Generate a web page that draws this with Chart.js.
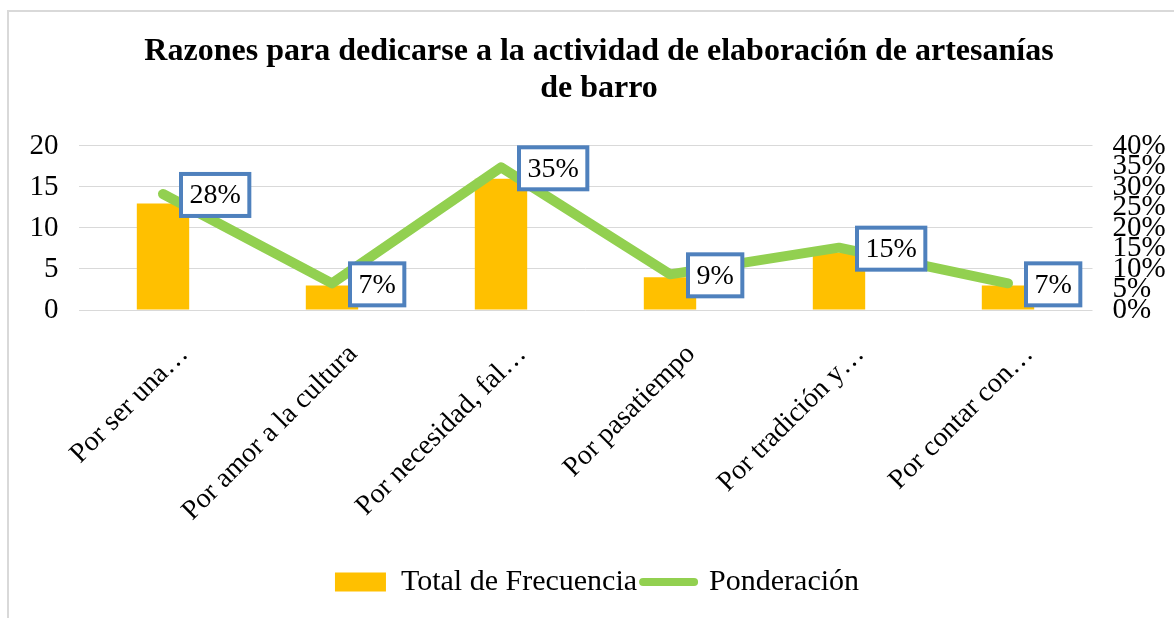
<!DOCTYPE html>
<html>
<head>
<meta charset="utf-8">
<script src="https://cdn.jsdelivr.net/npm/chart.js@4/dist/chart.umd.min.js"></script>
<style>
  html, body { margin: 0; padding: 0; background: #fff; }
  .frame { position: absolute; left: 7px; top: 10px; width: 1180px; height: 620px;
           border-left: 2px solid #d9d9d9; border-top: 2px solid #d9d9d9; }
  canvas { position: absolute; left: 0; top: 0; }
</style>
</head>
<body>
<div class="frame"></div>
<canvas id="chart" width="1174" height="618"></canvas>
<script>
const categories = [
    'Por ser una…',
    'Por amor a la cultura',
    'Por necesidad, fal…',
    'Por pasatiempo',
    'Por tradición y…',
    'Por contar con…'
];
const frecuencia = [13, 3, 16, 4, 7, 3];
const ponderacion = [28.3, 6.5, 34.8, 8.7, 15.2, 6.5];
const leftTicks = [0, 5, 10, 15, 20];
const rightTicks = [0, 5, 10, 15, 20, 25, 30, 35, 40];

const serif = "'Liberation Serif', 'Times New Roman', serif";
const gold = '#FFC000';
const green = '#92D050';
const blueBorder = '#4F81BD';

// boxed % labels next to each line point
const boxLabels = {
    id: 'boxLabels',
    afterDatasetsDraw(chart) {
        const meta = chart.getDatasetMeta(1);
        const ctx = chart.ctx;
        ctx.save();
        ctx.font = '28px ' + serif;
        ctx.textBaseline = 'middle';
        ctx.textAlign = 'left';
        meta.data.forEach((pt, i) => {
            const text = Math.round(ponderacion[i]) + '%';
            const tw = ctx.measureText(text).width;
            const bx = pt.x + 18;
            const bw = tw + 17;
            const bh = 42;
            const by = pt.y - bh / 2 + 1;
            ctx.fillStyle = '#fff';
            ctx.fillRect(bx, by, bw, bh);
            ctx.lineWidth = 4;
            ctx.strokeStyle = blueBorder;
            ctx.strokeRect(bx, by, bw, bh);
            ctx.fillStyle = '#000';
            ctx.fillText(text, bx + 8.5, by + bh / 2 + 1);
        });
        ctx.restore();
    }
};

// nudge title and legend to the frame's centre
const nudge = {
    id: 'nudge',
    afterLayout(chart) {
        if (chart.titleBlock) { chart.titleBlock.left += 12; chart.titleBlock.right += 12; }
        if (chart.legend) { chart.legend.left += 10; chart.legend.right += 10; }
    }
};

new Chart(document.getElementById('chart'), {
    type: 'bar',
    data: {
        labels: categories,
        datasets: [
            {
                label: 'Total de Frecuencia',
                data: frecuencia,
                backgroundColor: gold,
                borderWidth: 0,
                barPercentage: 0.31,
                categoryPercentage: 1,
                yAxisID: 'y',
                order: 1
            },
            {
                type: 'line',
                label: 'Ponderación',
                data: ponderacion,
                borderColor: green,
                backgroundColor: green,
                borderWidth: 10,
                borderCapStyle: 'round',
                borderJoinStyle: 'round',
                pointRadius: 0,
                tension: 0,
                yAxisID: 'y1',
                order: 0
            }
        ]
    },
    options: {
        responsive: false,
        animation: false,
        devicePixelRatio: 1,
        layout: { padding: { top: 33, bottom: 11, left: 0, right: 0 } },
        scales: {
            x: {
                grid: { display: false },
                border: { display: false },
                ticks: {
                    color: '#000',
                    font: { family: serif, size: 28 },
                    minRotation: 45,
                    maxRotation: 45,
                    autoSkip: false,
                    padding: 20,
                    labelOffset: 21
                },
                afterFit(scale) { scale.height = 251; }
            },
            y: {
                position: 'left',
                min: 0,
                max: 20,
                afterBuildTicks(scale) { scale.ticks = leftTicks.map(v => ({ value: v })); },
                grid: { color: '#d9d9d9', lineWidth: 1, drawTicks: false },
                border: { display: false },
                ticks: {
                    color: '#000',
                    font: { family: serif, size: 29 },
                    padding: 20
                },
                afterFit(scale) { scale.width = 78.5; }
            },
            y1: {
                position: 'right',
                min: 0,
                max: 40,
                afterBuildTicks(scale) { scale.ticks = rightTicks.map(v => ({ value: v })); },
                grid: { display: false, drawTicks: false },
                border: { display: false },
                ticks: {
                    color: '#000',
                    font: { family: serif, size: 29 },
                    autoSkip: false,
                    padding: 20,
                    callback: v => v + '%'
                },
                afterFit(scale) { scale.width = 81.5; }
            }
        },
        plugins: {
            title: {
                display: true,
                text: ['Razones para dedicarse a la actividad de elaboración de artesanías', 'de barro'],
                color: '#000',
                font: { family: serif, size: 32, weight: 'bold', lineHeight: 1.156 },
                padding: { top: 0, bottom: 39 }
            },
            legend: {
                position: 'bottom',
                labels: {
                    color: '#000',
                    font: { family: serif, size: 30 },
                    usePointStyle: true,
                    pointStyleWidth: 51,
                    boxHeight: 19,
                    padding: 6,
                    generateLabels(chart) {
                        const items = Chart.defaults.plugins.legend.labels.generateLabels(chart);
                        items.sort((a, b) => a.datasetIndex - b.datasetIndex);
                        items[0].pointStyle = 'rect';
                        items[0].lineWidth = 0;
                        items[1].pointStyle = 'line';
                        items[1].lineWidth = 8;
                        items[1].lineCap = 'round';
                        return items;
                    }
                }
            },
            tooltip: { enabled: false }
        }
    },
    plugins: [boxLabels, nudge]
});
</script>
</body>
</html>
